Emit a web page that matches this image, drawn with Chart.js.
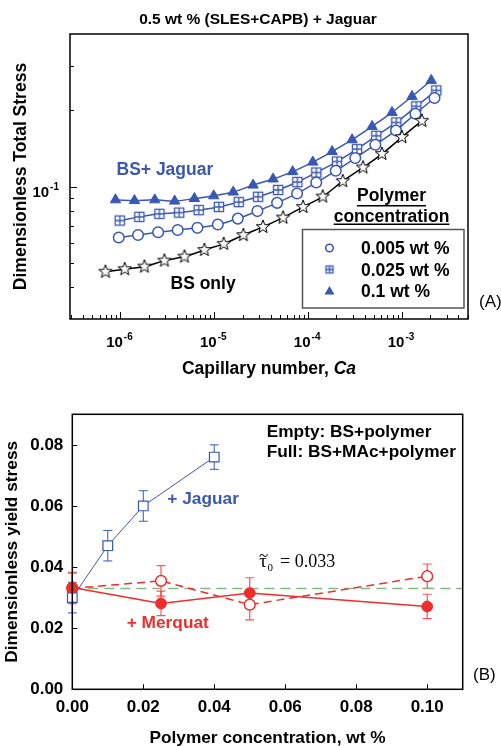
<!DOCTYPE html>
<html>
<head>
<meta charset="utf-8">
<script src="https://cdn.jsdelivr.net/npm/chart.js@4.4.1/dist/chart.umd.min.js"></script>
<style>
  html, body { margin: 0; padding: 0; background: #fff; }
  #wrap { position: relative; width: 501px; height: 746px; overflow: hidden; }
  #boxA { position: absolute; left: 0; top: 0; }
  #boxB { position: absolute; left: 0; top: 385px; }
</style>
</head>
<body>
<div id="wrap">
  <div id="boxA"><canvas id="chartA" width="501" height="385"></canvas></div>
  <div id="boxB"><canvas id="chartB" width="501" height="361"></canvas></div>
</div>
<script>
// ---- (A) dimensionless total stress vs capillary number ----
const caStar = [6.92e-7, 1.11e-6, 1.80e-6, 2.94e-6, 4.81e-6, 7.85e-6, 1.26e-5, 2.04e-5, 3.30e-5, 5.41e-5, 8.83e-5, 1.43e-4, 2.34e-4, 3.85e-4, 6.12e-4, 1.00e-3, 1.63e-3];
const stressStar = [0.0461, 0.0472, 0.0483, 0.0510, 0.0529, 0.0562, 0.0594, 0.0643, 0.0693, 0.0754, 0.0831, 0.0913, 0.1050, 0.1189, 0.1346, 0.1567, 0.1818];

const caCircle = [9.59e-7, 1.54e-6, 2.52e-6, 4.07e-6, 6.61e-6, 1.09e-5, 1.78e-5, 2.88e-5, 4.67e-5, 7.62e-5, 1.22e-4, 1.97e-4, 3.18e-4, 5.20e-4, 8.63e-4, 1.39e-3, 2.22e-3];
const stressCircle = [0.0629, 0.0644, 0.0660, 0.0674, 0.0687, 0.0708, 0.0747, 0.0800, 0.0862, 0.0939, 0.1037, 0.1154, 0.1295, 0.1462, 0.1665, 0.1938, 0.2236];

const caSquare = [9.83e-7, 1.59e-6, 2.60e-6, 4.22e-6, 6.82e-6, 1.12e-5, 1.82e-5, 2.93e-5, 4.79e-5, 7.67e-5, 1.22e-4, 2.03e-4, 3.32e-4, 5.32e-4, 8.69e-4, 1.42e-3, 2.32e-3];
const stressSquare = [0.0734, 0.0759, 0.0780, 0.0789, 0.0807, 0.0831, 0.0868, 0.0911, 0.0969, 0.1042, 0.1136, 0.1255, 0.1405, 0.1586, 0.1790, 0.2072, 0.2395];

const caTri = [8.85e-7, 1.41e-6, 2.32e-6, 3.78e-6, 6.14e-6, 9.86e-6, 1.59e-5, 2.59e-5, 4.23e-5, 6.84e-5, 1.12e-4, 1.80e-4, 2.94e-4, 4.80e-4, 7.83e-4, 1.28e-3, 2.05e-3];
const stressTri = [0.0886, 0.0880, 0.0886, 0.0876, 0.0897, 0.0919, 0.0951, 0.1013, 0.1071, 0.1145, 0.1249, 0.1374, 0.1530, 0.1727, 0.1962, 0.2269, 0.2624];

const legendLabelsA = ['0.005 wt %', '0.025 wt %', '0.1 wt %'];
const caDecades = [-6, -5, -4, -3];      // labelled ticks 10^d on the Ca axis
const stressDecades = [-1];              // labelled ticks on the stress axis

// ---- (B) dimensionless yield stress vs polymer concentration ----
const concJaguar = [0, 0.01, 0.02, 0.04];
const yieldJaguar = [0.030, 0.047, 0.060, 0.076];
const errJaguar = [0.005, 0.005, 0.005, 0.004];

const concMerqEmpty = [0, 0.025, 0.05, 0.10];
const yieldMerqEmpty = [0.033, 0.0355, 0.0277, 0.037];
const errMerqEmpty = [0.005, 0.005, 0.005, 0.004];

const concMerqFull = [0, 0.025, 0.05, 0.10];
const yieldMerqFull = [0.0333, 0.0281, 0.0315, 0.0271];
const errMerqFull = [0.005, 0.004, 0.005, 0.004];

const tau0 = 0.033;
const concRange = [0, 0.11];

const FONT = "'Liberation Sans', Arial, sans-serif";
const SERIF = "'Liberation Serif', 'Times New Roman', serif";
const BLUE = '#3a57b2';
const RED = '#ee2d2d';
const GREEN = '#86b886';

Chart.defaults.font.family = FONT;
Chart.defaults.font.weight = 'bold';
Chart.defaults.color = '#000';

function makeMarker(size, draw) {
  const c = document.createElement('canvas');
  c.width = size; c.height = size;
  draw(c.getContext('2d'), size / 2);
  return c;
}
function starShape(g, c, ro, ri) {
  g.beginPath();
  for (let i = 0; i < 10; i++) {
    const r = i % 2 ? ri : ro;
    const a = -Math.PI / 2 + i * Math.PI / 5;
    g.lineTo(c + r * Math.cos(a), c + r * Math.sin(a));
  }
  g.closePath();
  g.fillStyle = '#fff'; g.fill();
  g.lineWidth = 1; g.strokeStyle = '#000'; g.stroke();
}
function boxShape(g, c, h) {
  g.fillStyle = '#fff'; g.fillRect(c - h, c - h, 2 * h, 2 * h);
  g.strokeStyle = BLUE; g.lineWidth = 1.3;
  g.strokeRect(c - h, c - h, 2 * h, 2 * h);
  g.beginPath();
  g.moveTo(c, c - h); g.lineTo(c, c + h);
  g.moveTo(c - h, c); g.lineTo(c + h, c);
  g.stroke();
}
const starImg = makeMarker(18, (g, c) => starShape(g, c, 7, 2.9));
const boxImg = makeMarker(14, (g, c) => boxShape(g, c, 4.6));
const boxImgSmall = makeMarker(12, (g, c) => boxShape(g, c, 3.5));

function pts(xs, ys) { return xs.map((x, i) => ({ x: x, y: ys[i] })); }

function drawPow(ctx, cx, base, exp, baseY, expY, align) {
  ctx.font = 'bold 15px ' + FONT;
  const wb = ctx.measureText(base).width;
  ctx.font = 'bold 10px ' + FONT;
  const we = ctx.measureText(exp).width;
  const x0 = align === 'right' ? cx - wb - we - 1 : cx - (wb + we + 1) / 2 - 1;
  ctx.textAlign = 'left';
  ctx.font = 'bold 15px ' + FONT;
  ctx.fillText(base, x0, baseY);
  ctx.font = 'bold 10px ' + FONT;
  ctx.fillText(exp, x0 + wb + 1, expY);
}

const decoA = {
  id: 'decoA',
  afterDraw(chart) {
    const { ctx, chartArea: a, scales: { x, y } } = chart;
    ctx.save();
    ctx.strokeStyle = '#000';
    ctx.lineWidth = 1.5;
    ctx.strokeRect(a.left, a.top, a.right - a.left, a.bottom - a.top);

    // inward ticks
    ctx.lineWidth = 1;
    ctx.beginPath();
    for (let d = -7; d <= -3; d++) {
      for (let m = 1; m <= 9; m++) {
        const v = m * Math.pow(10, d);
        if (v <= x.min || v >= x.max) continue;
        const px = Math.round(x.getPixelForValue(v)) + 0.5;
        ctx.moveTo(px, a.bottom);
        ctx.lineTo(px, a.bottom - (m === 1 ? 7 : 4));
      }
    }
    for (let d = -2; d <= -1; d++) {
      for (let m = 1; m <= 9; m++) {
        const v = m * Math.pow(10, d);
        if (v <= y.min || v >= y.max) continue;
        const py = Math.round(y.getPixelForValue(v)) + 0.5;
        ctx.moveTo(a.left, py);
        ctx.lineTo(a.left + (m === 1 ? 7 : 4), py);
      }
    }
    ctx.stroke();

    // tick labels
    ctx.fillStyle = '#000';
    ctx.textBaseline = 'alphabetic';
    caDecades.forEach(d => {
      drawPow(ctx, x.getPixelForValue(Math.pow(10, d)), '10', String(d), 346.5, 340);
    });
    stressDecades.forEach(d => {
      const py = y.getPixelForValue(Math.pow(10, d));
      drawPow(ctx, a.left - 11, '10', String(d), py + 10, py + 3.5, 'right');
    });

    // title and x-axis title
    ctx.textAlign = 'center';
    ctx.font = 'bold 15.5px ' + FONT;
    ctx.fillText('0.5 wt % (SLES+CAPB) + Jaguar', 258, 24);
    ctx.font = 'bold 17.5px ' + FONT;
    const t1 = 'Capillary number, ';
    const w1 = ctx.measureText(t1).width;
    ctx.font = 'italic bold 17.5px ' + FONT;
    const w2 = ctx.measureText('Ca').width;
    const tx = (a.left + a.right) / 2 - (w1 + w2) / 2;
    ctx.textAlign = 'left';
    ctx.font = 'bold 17.5px ' + FONT;
    ctx.fillText(t1, tx, 374);
    ctx.font = 'italic bold 17.5px ' + FONT;
    ctx.fillText('Ca', tx + w1, 374);

    // curve labels
    ctx.font = 'bold 17.5px ' + FONT;
    ctx.fillStyle = BLUE;
    ctx.fillText('BS+ Jaguar', 116.5, 175);
    ctx.fillStyle = '#000';
    ctx.fillText('BS only', 170.5, 288.5);

    // legend header
    ctx.textAlign = 'center';
    ['Polymer', 'concentration'].forEach((s, i) => {
      const by = i === 0 ? 201 : 221.5;
      ctx.fillText(s, 391.5, by);
      const w = ctx.measureText(s).width;
      ctx.fillRect(391.5 - w / 2, by + (i === 0 ? 4 : 2), w, 1.5);
    });

    // legend box
    ctx.strokeStyle = '#555';
    ctx.lineWidth = 1.5;
    ctx.strokeRect(302.5, 229.5, 161.5, 78.5);
    ctx.textAlign = 'left';
    const rows = [248, 269.5, 290.5];
    rows.forEach((ry, i) => {
      const mx = 329.5;
      ctx.strokeStyle = BLUE;
      ctx.fillStyle = BLUE;
      ctx.lineWidth = 1.5;
      if (i === 0) {
        ctx.beginPath(); ctx.arc(mx, ry, 3.8, 0, Math.PI * 2); ctx.stroke();
      } else if (i === 1) {
        ctx.drawImage(boxImgSmall, mx - 6, ry - 6);
      } else {
        ctx.beginPath();
        ctx.moveTo(mx, ry - 4.5); ctx.lineTo(mx + 5, ry + 4); ctx.lineTo(mx - 5, ry + 4);
        ctx.closePath(); ctx.fill();
      }
      ctx.fillStyle = '#000';
      ctx.font = 'bold 17.5px ' + FONT;
      ctx.fillText(legendLabelsA[i], 361, ry + 6.3);
    });

    ctx.font = '17px ' + FONT;
    ctx.fillText('(A)', 479, 306.5);
    ctx.restore();
  }
};

new Chart(document.getElementById('chartA'), {
  type: 'line',
  data: {
    datasets: [
      { label: 'BS only', data: pts(caStar, stressStar), borderColor: '#000', borderWidth: 1.5,
        pointStyle: starImg, tension: 0.4 },
      { label: '0.005 wt %', data: pts(caCircle, stressCircle), borderColor: BLUE, borderWidth: 1.5,
        pointStyle: 'circle', pointRadius: 5.3, pointBorderWidth: 1.5, pointBorderColor: BLUE,
        pointBackgroundColor: '#fff', tension: 0.4 },
      { label: '0.025 wt %', data: pts(caSquare, stressSquare), borderColor: BLUE, borderWidth: 1.5,
        pointStyle: boxImg, tension: 0.4 },
      { label: '0.1 wt %', data: pts(caTri, stressTri), borderColor: BLUE, borderWidth: 1.5,
        pointStyle: 'triangle', pointRadius: 6, pointBorderWidth: 1, pointBorderColor: BLUE,
        pointBackgroundColor: BLUE, tension: 0.4 }
    ]
  },
  options: {
    responsive: false,
    animation: false,
    layout: { padding: { left: 0, top: 34, right: 33, bottom: 0 } },
    plugins: { legend: { display: false }, tooltip: { enabled: false } },
    scales: {
      x: {
        type: 'logarithmic', min: 2.9e-7, max: 5.05e-3,
        grid: { display: false, drawTicks: false }, border: { display: false },
        ticks: { display: false },
        afterFit(s) { s.height = 66; }
      },
      y: {
        type: 'logarithmic', min: 0.03, max: 0.40,
        grid: { display: false, drawTicks: false }, border: { display: false },
        ticks: { display: false },
        title: { display: true, text: 'Dimensionless Total Stress', font: { size: 17.5, weight: 'bold' },
                 padding: { top: 11, bottom: 0 } },
        afterFit(s) { s.width = 70; }
      }
    }
  },
  plugins: [decoA]
});

// error bars for chart B
const errorSets = [
  { ds: 0, err: errJaguar, color: BLUE, width: 1 },
  { ds: 1, err: errMerqEmpty, color: 'rgba(238,45,45,0.8)', width: 1.2 },
  { ds: 2, err: errMerqFull, color: 'rgba(238,45,45,0.8)', width: 1.2 }
];

const decoB = {
  id: 'decoB',
  beforeDatasetsDraw(chart) {
    const { ctx, scales: { x, y } } = chart;
    ctx.save();
    errorSets.forEach(s => {
      const data = chart.data.datasets[s.ds].data;
      ctx.strokeStyle = s.color;
      ctx.lineWidth = s.width;
      ctx.setLineDash([]);
      ctx.beginPath();
      data.forEach((p, j) => {
        const px = x.getPixelForValue(p.x);
        const yt = y.getPixelForValue(p.y + s.err[j]);
        const yb = y.getPixelForValue(p.y - s.err[j]);
        ctx.moveTo(px, yt); ctx.lineTo(px, yb);
        ctx.moveTo(px - 4.5, yt); ctx.lineTo(px + 4.5, yt);
        ctx.moveTo(px - 4.5, yb); ctx.lineTo(px + 4.5, yb);
      });
      ctx.stroke();
    });
    ctx.restore();
  },
  afterDraw(chart) {
    const { ctx, chartArea: a, scales: { x, y } } = chart;
    ctx.save();
    ctx.strokeStyle = '#000';
    ctx.lineWidth = 1.5;
    ctx.strokeRect(a.left, a.top, a.right - a.left, a.bottom - a.top);
    ctx.lineWidth = 1;
    ctx.beginPath();
    x.ticks.forEach(t => {
      if (t.value <= x.min) return;
      const px = Math.round(x.getPixelForValue(t.value)) + 0.5;
      ctx.moveTo(px, a.bottom); ctx.lineTo(px, a.bottom - 5);
    });
    y.ticks.forEach(t => {
      if (t.value <= y.min) return;
      const py = Math.round(y.getPixelForValue(t.value)) + 0.5;
      ctx.moveTo(a.left, py); ctx.lineTo(a.left + 5, py);
    });
    ctx.stroke();

    ctx.fillStyle = '#000';
    ctx.textAlign = 'left';
    ctx.textBaseline = 'alphabetic';
    ctx.font = 'bold 17.3px ' + FONT;
    ctx.fillText('Empty: BS+polymer', 266.7, 52.4);
    ctx.fillText('Full: BS+MAc+polymer', 266.7, 72.4);
    ctx.fillStyle = BLUE;
    ctx.fillText('+ Jaguar', 167.3, 118.9);
    ctx.fillStyle = RED;
    ctx.fillText('+ Merquat', 126.7, 242.9);

    // tau label: tau with a tilde above, subscript 0
    ctx.fillStyle = '#000';
    ctx.font = '19px ' + SERIF;
    ctx.fillText('\u03C4', 259.3, 182.3);
    const wt = ctx.measureText('\u03C4').width;
    ctx.textAlign = 'center';
    ctx.font = '17px ' + SERIF;
    ctx.fillText('~', 259.3 + wt / 2 + 0.5, 175.5);
    ctx.textAlign = 'left';
    ctx.font = '11px ' + SERIF;
    ctx.fillText('0', 259.3 + wt + 0.5, 185.5);
    ctx.font = '18px ' + SERIF;
    ctx.fillText('= ' + tau0.toFixed(3), 280, 182.3);

    ctx.font = '17px ' + FONT;
    ctx.fillText('(B)', 473, 295);
    ctx.restore();
  }
};

new Chart(document.getElementById('chartB'), {
  type: 'line',
  data: {
    datasets: [
      { label: '+ Jaguar', data: pts(concJaguar, yieldJaguar), borderColor: BLUE, borderWidth: 1,
        pointStyle: 'rect', pointRadius: 6.8, pointBorderWidth: 1.2, pointBorderColor: BLUE,
        pointBackgroundColor: '#fff', clip: false, order: 1 },
      { label: '+ Merquat (BS+polymer)', data: pts(concMerqEmpty, yieldMerqEmpty), borderColor: RED,
        borderWidth: 1.5, borderDash: [8, 5], pointStyle: 'circle', pointRadius: 5.4, pointBorderWidth: 1.5,
        pointBorderColor: RED, pointBackgroundColor: '#fff', clip: false, order: 2 },
      { label: '+ Merquat (BS+MAc+polymer)', data: pts(concMerqFull, yieldMerqFull), borderColor: RED,
        borderWidth: 1.5, pointStyle: 'circle', pointRadius: 5.4, pointBorderWidth: 1,
        pointBorderColor: RED, pointBackgroundColor: RED, clip: false, order: 0 },
      { label: 'tau0', data: pts(concRange, [tau0, tau0]), borderColor: GREEN, borderWidth: 1.5,
        borderDash: [10, 6], pointRadius: 0, order: 5 }
    ]
  },
  options: {
    responsive: false,
    animation: false,
    layout: { padding: { left: 0, top: 29.3, right: 38.3, bottom: 0 } },
    plugins: { legend: { display: false }, tooltip: { enabled: false } },
    scales: {
      x: {
        type: 'linear', min: 0, max: 0.11,
        grid: { display: false, drawTicks: false }, border: { display: false },
        ticks: { stepSize: 0.02, includeBounds: false, autoSkip: false, maxRotation: 0,
                 padding: 8, font: { size: 17, weight: 'bold' }, callback: v => v.toFixed(2) },
        title: { display: true, text: 'Polymer concentration, wt %', font: { size: 17.3, weight: 'bold' },
                 padding: { top: 0, bottom: -2.4 } },
        afterFit(s) { s.height = 56.7; }
      },
      y: {
        type: 'linear', min: 0, max: 0.09,
        grid: { display: false, drawTicks: false }, border: { display: false },
        ticks: { stepSize: 0.02, includeBounds: false, padding: 9,
                 font: { size: 17, weight: 'bold' }, callback: v => v.toFixed(2) },
        title: { display: true, text: 'Dimensionless yield stress', font: { size: 17.3, weight: 'bold' },
                 padding: { top: 2, bottom: 0 } },
        afterFit(s) { s.width = 72.3; }
      }
    }
  },
  plugins: [decoB]
});
</script>
</body>
</html>
